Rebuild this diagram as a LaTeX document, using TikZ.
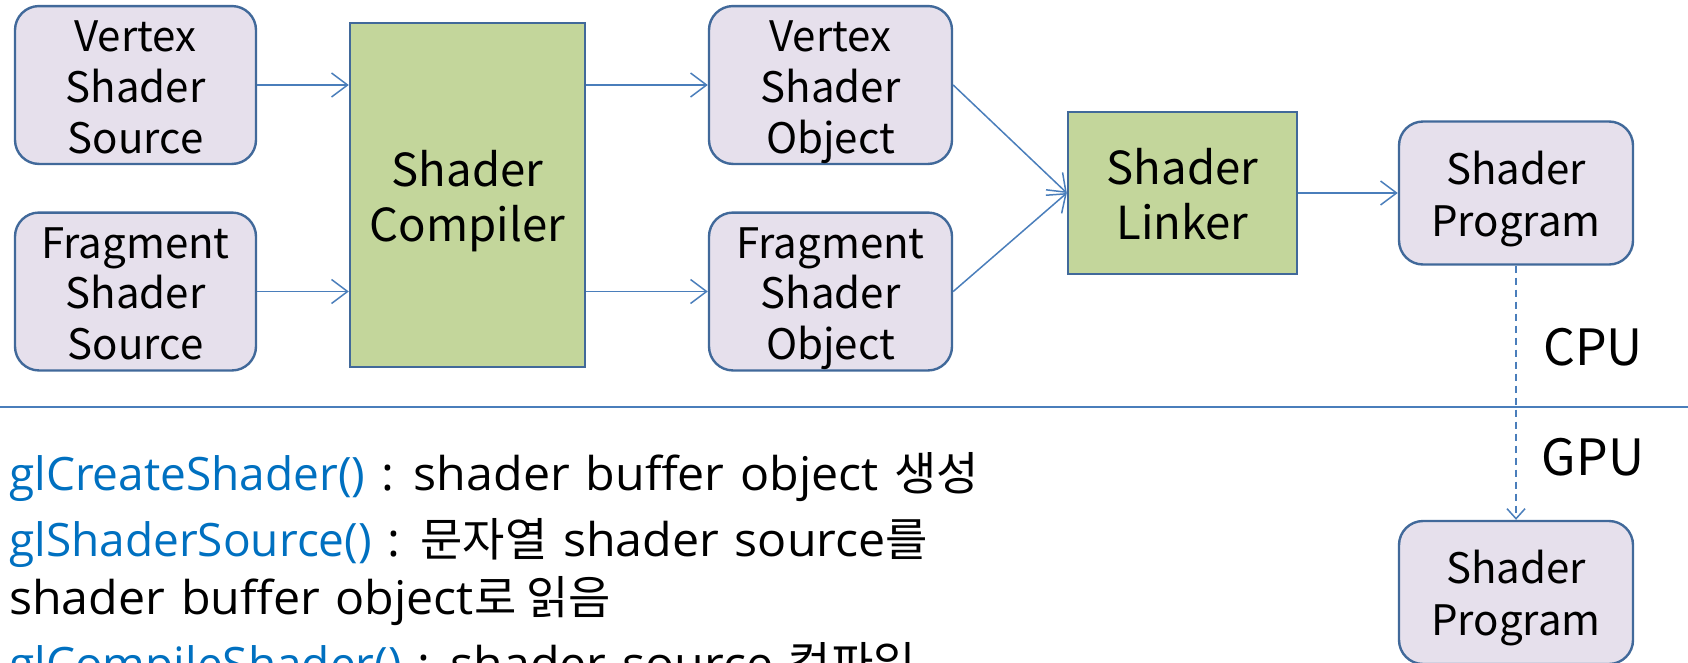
\documentclass[tikz,border=0pt]{standalone}
\usepackage{fontspec}
\setmainfont{Noto Sans CJK KR}
\newfontfamily\noteapi{Open Sans}
\newfontfamily\notetext[WordSpace=1.25, FakeStretch=1.04]{Open Sans}
\newfontfamily\notekor{Noto Sans CJK KR}
\usetikzlibrary{arrows.meta}
\definecolor{boxfill}{HTML}{E6E0EC}
\definecolor{boxline}{HTML}{41699A}
\definecolor{greenfill}{HTML}{C3D69B}
\definecolor{flowline}{HTML}{4A7EBB}
\definecolor{apiblue}{HTML}{0070C0}
% struts that give every box label the same top and bottom extent
\newcommand\capline{\rule{0pt}{1.09em}}
\newcommand\footline{\rule[-0.26em]{0pt}{0.26em}}
% pieces of the API notes
\newcommand\api[1]{{\noteapi\fontsize{46}{56}\selectfont\color{apiblue}#1}}
\newcommand\txt[1]{{\notetext\fontsize{46.5}{56}\selectfont #1}}
\newcommand\kor[1]{{\notekor\fontsize{46}{56}\selectfont #1}}
\tikzset{
  databox/.style={draw=boxline, line width=2.4pt, fill=boxfill, rounded corners=24pt,
    align=center, inner sep=0pt, font=\fontsize{42}{50.6}\selectfont},
  progbox/.style={databox, minimum width=234pt, minimum height=143pt,
    font=\fontsize{42}{52}\selectfont},
  stagebox/.style={draw=boxline, line width=2.4pt, fill=greenfill,
    align=center, inner sep=0pt, font=\fontsize{45.5}{55}\selectfont},
  flow/.style={draw=flowline, line width=1.5pt,
    -{Straight Barb[length=16pt, width=24pt, line width=1.5pt]}},
  handoff/.style={draw=flowline, line width=1.5pt, dash pattern=on 7pt off 5pt,
    -{Straight Barb[length=10pt, width=18pt, line width=1.5pt]}},
  sidelabel/.style={inner sep=0pt, font=\fontsize{50}{56}\selectfont},
  apiline/.style={anchor=base west, inner sep=0pt, font=\fontsize{44}{56}\selectfont}
}
\begin{document}
\begin{tikzpicture}[x=1pt, y=-1pt]
  \useasboundingbox (0,0) rectangle (1688,662);

  % CPU / GPU boundary
  \coordinate (splitL) at (0,407);
  \coordinate (splitR) at (1688,407);
  \draw[flowline, line width=2pt] (splitL) -- (splitR);

  % sources
  \node[databox, minimum width=241pt, minimum height=155pt] (vsrc) at (135.5,85) {\capline Vertex\\Shader\\Source\footline};
  \node[databox, minimum width=241pt, minimum height=155pt] (fsrc) at (135.5,291.5) {\capline Fragment\\Shader\\Source\footline};

  % compiler
  \node[stagebox, minimum width=235pt, minimum height=344pt] (comp) at (467.5,195) {\capline Shader\\Compiler\footline};

  % compiled objects
  \node[databox, minimum width=243pt, minimum height=155pt] (vobj) at (830.5,85) {\capline Vertex\\Shader\\Object\footline};
  \node[databox, minimum width=243pt, minimum height=155pt] (fobj) at (830.5,291.5) {\capline Fragment\\Shader\\Object\footline};

  % linker
  \node[stagebox, minimum width=229pt, minimum height=162pt] (link) at (1182.5,193) {\capline Shader\\Linker\footline};

  % programs
  \node[progbox] (prog) at (1516,193) {\capline Shader\\Program\footline};
  \node[progbox] (gprog) at (1516,592.5) {\capline Shader\\Program\footline};

  % flow
  \draw[flow] (vsrc.east) -- (vsrc.east -| comp.west);
  \draw[flow] (fsrc.east) -- (fsrc.east -| comp.west);
  \draw[flow] (vobj.west -| comp.east) -- (vobj.west);
  \draw[flow] (fobj.west -| comp.east) -- (fobj.west);
  \draw[flow] (vobj.east) -- (link.west);
  \draw[flow] (fobj.east) -- (link.west);
  \draw[flow] (link.east) -- (prog.west);
  \draw[handoff] (prog.south) -- (gprog.north);

  % side labels
  \node[sidelabel] (cpu) at (1593,347) {CPU};
  \node[sidelabel] (gpu) at (1593,457) {GPU};

  % API notes
  \node[apiline] (l1) at (9,490) {\api{glCreateShader()}\txt{ : shader buffer object }\kor{생성}};
  \node[apiline] (l2) at (9,556) {\api{glShaderSource()}\txt{ : }\kor{문자열}\txt{ shader source}\kor{를}};
  \node[apiline] (l3) at (9,614) {\txt{shader buffer object}\kor{로 읽음}};
  \node[apiline] (l4) at (9,680) {\api{glCompileShader()}\txt{ : shader source }\kor{컴파일}};
\end{tikzpicture}
\end{document}
